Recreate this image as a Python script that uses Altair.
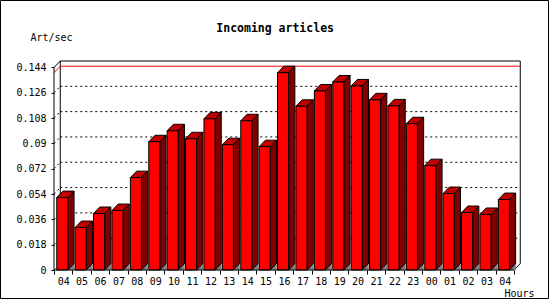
import json
import altair as alt
import pandas as pd

# ---------------- data ----------------
hours = ["04", "05", "06", "07", "08", "09", "10", "11", "12", "13", "14", "15", "16",
         "17", "18", "19", "20", "21", "22", "23", "00", "01", "02", "03", "04"]
values = [0.0515, 0.0302, 0.0402, 0.0423, 0.0657, 0.0912, 0.0990, 0.0933, 0.1075,
          0.0891, 0.1061, 0.0877, 0.1403, 0.1164, 0.1273, 0.1337, 0.1309, 0.1210,
          0.1167, 0.1040, 0.0742, 0.0544, 0.0409, 0.0395, 0.0501]
y_ticks = [0, 0.018, 0.036, 0.054, 0.072, 0.09, 0.108, 0.126, 0.144]

# ---------------- geometry (style) ----------------
N = len(values)
YMAX = y_ticks[-1]
BAR_L, BAR_R = 0.15, 0.75      # bar front face inside each band
DX, DY = 0.34, 0.0046          # 3D depth offset (x units, y units)
FONT = "DejaVu Sans Mono"

W = (N + DX) * 18.4
H = 209

# front faces
front = pd.DataFrame({
    "id": range(N), "hour": hours, "v": values,
})
front["x"] = front["id"] + BAR_L
front["x2"] = front["id"] + BAR_R
front["y"] = 0.0
front["y2"] = front["v"]

top_rows, side_rows, shadow_rows = [], [], []
for i, v in enumerate(values):
    xl, xr = i + BAR_L, i + BAR_R
    top_rows += [
        {"id": i, "x": xl, "y": v, "y2": v},
        {"id": i, "x": xl + DX, "y": v, "y2": v + DY},
        {"id": i, "x": xr, "y": v, "y2": v + DY},
        {"id": i, "x": xr + DX, "y": v + DY, "y2": v + DY},
    ]
    side_rows += [
        {"id": i, "x": xr, "y": 0.0, "y2": v},
        {"id": i, "x": xr + DX, "y": DY, "y2": v + DY},
    ]
    shadow_rows += [
        {"id": i, "x": xr, "y": 0.0, "y2": 0.0},
        {"id": i, "x": xr + DX, "y": 0.0, "y2": DY},
    ]
top = pd.DataFrame(top_rows)
side = pd.DataFrame(side_rows)
shadow = pd.DataFrame(shadow_rows)

vmax = max(values)

solid_rules = pd.DataFrame([
    {"x": DX, "x2": N + DX, "y": YMAX + DY, "y2": YMAX + DY},   # back top
    {"x": DX, "x2": DX, "y": DY, "y2": YMAX + DY},              # back left
    {"x": N + DX, "x2": N + DX, "y": DY, "y2": YMAX + DY},      # back right
    {"x": 0, "x2": DX, "y": YMAX, "y2": YMAX + DY},             # top-left diagonal
    {"x": N, "x2": N + DX, "y": 0, "y2": DY},                   # floor right diagonal
])
front_axes = pd.DataFrame([
    {"x": 0, "x2": 0, "y": 0, "y2": YMAX},
    {"x": 0, "x2": N, "y": 0, "y2": 0},
])
grid = pd.DataFrame([{"x": DX, "x2": N + DX, "y": t + DY, "y2": t + DY} for t in y_ticks[1:-1]])
diag = pd.DataFrame([{"x": 0, "x2": DX, "y": t, "y2": t + DY} for t in y_ticks[:-1]])
maxline = pd.DataFrame([
    {"x": DX, "x2": N + DX, "y": vmax + DY, "y2": vmax + DY},
    {"x": 0, "x2": DX, "y": vmax, "y2": vmax + DY},
])

# ---------------- scales / axes ----------------
xscale = alt.Scale(domain=[0, N + DX], nice=False, zero=False)
yscale = alt.Scale(domain=[0, YMAX + DY], nice=False)

label_expr = json.dumps(hours) + "[datum.value] || ''"
xaxis = alt.Axis(
    values=list(range(N + 1)), labelExpr=label_expr, labelOffset=9.2,
    labelFlush=False, labelOverlap=False, domain=False, grid=False,
    tickSize=4, tickColor="black", labelPadding=2,
    labelFont=FONT, labelFontSize=10, labelColor="black",
    title="Hours", titleFont=FONT, titleFontSize=10, titleFontWeight="normal",
    titleColor="black", titleX=450, titleY=23, titleAlign="left",
    titleBaseline="middle",
)
yaxis = alt.Axis(
    values=y_ticks, labelExpr="'' + datum.value", domain=False, grid=False,
    tickSize=3, tickColor="black", labelPadding=5,
    labelFont=FONT, labelFontSize=10, labelColor="black",
    title="Art/sec", titleFont=FONT, titleFontSize=10, titleFontWeight="normal",
    titleColor="black", titleAngle=0, titleX=-24, titleY=-24, titleAlign="left",
    titleBaseline="middle",
)

X = alt.X("x:Q", scale=xscale, axis=xaxis)
Y = alt.Y("y:Q", scale=yscale, axis=yaxis, stack=None)


def rules(df, **kw):
    return alt.Chart(df).mark_rule(strokeWidth=1, **kw).encode(
        x=X, x2="x2:Q", y=Y, y2="y2:Q")


grid_l = rules(grid, color="black", strokeDash=[2, 3])
diag_l = rules(diag, color="black", strokeDash=[2, 3])
back_l = rules(solid_rules, color="black")
max_l = rules(maxline, color="#ff0000")

shadow_l = alt.Chart(shadow).mark_area(fill="#808080", stroke="#808080", strokeWidth=0.5).encode(
    x=X, y=Y, y2="y2:Q", detail="id:N")
side_l = alt.Chart(side).mark_area(fill="#800000", stroke="black", strokeWidth=1).encode(
    x=X, y=Y, y2="y2:Q", detail="id:N")
top_l = alt.Chart(top).mark_area(fill="#c00000", stroke="black", strokeWidth=1).encode(
    x=X, y=Y, y2="y2:Q", detail="id:N")
front_l = alt.Chart(front).mark_rect(fill="#ff0000", stroke="black", strokeWidth=1).encode(
    x=X, x2="x2:Q", y=Y, y2="y2:Q", tooltip=["hour:N", "v:Q"])
axes_l = rules(front_axes, color="black")

frame_l = alt.Chart(pd.DataFrame({"k": [0]})).mark_rect(
    fill=None, stroke="black", strokeWidth=1).encode(
    x=alt.value(-53.5), x2=alt.value(494.5), y=alt.value(-60.5), y2=alt.value(237.5))

chart = alt.layer(
    grid_l, diag_l, back_l, max_l, shadow_l, side_l, top_l, front_l, axes_l, frame_l
).properties(
    width=W, height=H,
    padding={"left": 54, "top": 61, "right": 550 - 54 - W, "bottom": 300 - 61 - H},
    autosize=alt.AutoSizeParams(type="none"),
    background="white",
    title=alt.TitleParams(
        "Incoming articles", font=FONT, fontSize=11.5, fontWeight="bold",
        color="black", anchor="middle", frame="group", dx=-12, dy=34, offset=0,
    ),
).configure_view(stroke=None)

chart.save("out.html", embed_options={"renderer": "svg", "actions": False})
